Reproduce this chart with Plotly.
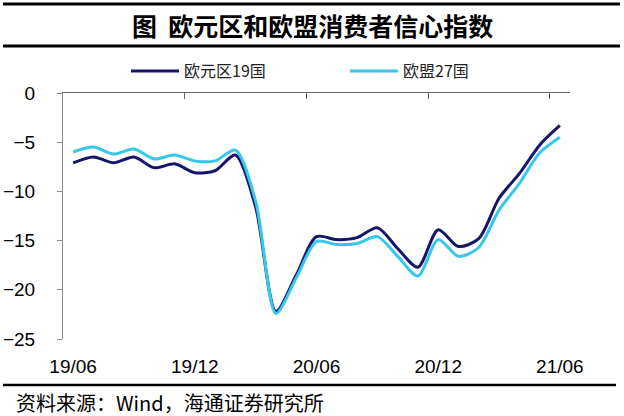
import plotly.graph_objects as go

months = ["2019-06","2019-07","2019-08","2019-09","2019-10","2019-11","2019-12",
          "2020-01","2020-02","2020-03","2020-04","2020-05","2020-06","2020-07",
          "2020-08","2020-09","2020-10","2020-11","2020-12","2021-01","2021-02",
          "2021-03","2021-04","2021-05","2021-06"]
ea19 = [-7.1, -6.5, -7.1, -6.5, -7.6, -7.2, -8.1, -7.9, -6.3, -11.6, -22.2, -18.5,
        -14.6, -14.9, -14.7, -13.7, -15.8, -17.7, -13.9, -15.6, -14.8, -10.7, -8.2,
        -5.3, -3.3]
eu27 = [-6.0, -5.5, -6.2, -5.7, -6.7, -6.3, -6.9, -6.9, -5.8, -11.0, -22.4, -18.8,
        -15.1, -15.4, -15.3, -14.6, -16.6, -18.6, -14.9, -16.6, -15.7, -11.9, -9.2,
        -6.1, -4.5]
tick_idx = [0, 6, 12, 18, 24]
tick_labels = ["19/06", "19/12", "20/06", "20/12", "21/06"]
y_ticks = [0, -5, -10, -15, -20, -25]

x = list(range(len(months)))
FONT = "Liberation Sans, Arial, Noto Sans CJK SC"
CJK = "Noto Sans CJK SC, Liberation Sans"

L, R, T, B = 63, 570, 93, 339
W, H = 624, 416
def px(xp):
    return (xp - L) / (R - L)
def py(yp):
    return (B - yp) / (B - T)

fig = go.Figure()
fig.add_trace(go.Scatter(x=x, y=ea19, name="欧元区19国", mode="lines",
                         line=dict(color="#15156B", width=3, shape="spline", smoothing=0.8),
                         hovertext=months))
fig.add_trace(go.Scatter(x=x, y=eu27, name="欧盟27国", mode="lines",
                         line=dict(color="#35C8EC", width=3, shape="spline", smoothing=0.8),
                         hovertext=months))

fig.update_layout(
    width=W, height=H,
    margin=dict(l=L, r=W - R, t=T, b=H - B, autoexpand=False),
    paper_bgcolor="white", plot_bgcolor="white",
    font=dict(family=FONT, size=19, color="black"),
    showlegend=True,
    legend=dict(orientation="h", x=px(126), xanchor="left", y=py(71), yanchor="middle",
                font=dict(family=CJK, size=16, color="#222222"),
                entrywidth=156, bgcolor="rgba(0,0,0,0)", itemwidth=48,
                tracegroupgap=0),
    xaxis=dict(range=[-0.5, len(months) - 0.5], tickmode="array",
               tickvals=tick_idx, ticktext=tick_labels, automargin=False,
               showline=False, showgrid=False, zeroline=False,
               ticks="", ticklabelstandoff=14,
               tickfont=dict(family=FONT, size=19, color="black")),
    xaxis2=dict(range=[-0.5, len(months) - 0.5], overlaying="x", side="top",
                anchor="y", tickmode="array", automargin=False,
                tickvals=[i - 0.5 for i in tick_idx[1:]] + [-0.5],
                showticklabels=False, ticks="inside", ticklen=6,
                tickcolor="#666666", showline=True, linecolor="#666666",
                linewidth=1, showgrid=False, zeroline=False),
    yaxis=dict(range=[-25, 0], tickmode="array", tickvals=y_ticks, automargin=False,
               showline=True, linecolor="#888888", linewidth=1,
               ticks="outside", ticklen=5, tickcolor="#888888",
               showgrid=False, zeroline=False, ticklabelstandoff=18,
               tickfont=dict(family=FONT, size=19, color="black")),
)
# dummy trace to activate xaxis2
fig.add_trace(go.Scatter(x=[None], y=[None], xaxis="x2", showlegend=False,
                         hoverinfo="skip"))

# Title and rules
fig.add_annotation(text="<b>图  欧元区和欧盟消费者信心指数</b>", xref="paper", yref="paper",
                   x=px(312), y=py(25), xanchor="center", yanchor="middle",
                   showarrow=False, font=dict(family=CJK, size=25, color="black"))
fig.add_annotation(text="资料来源：Wind，海通证券研究所", xref="paper", yref="paper",
                   x=px(14), y=py(402), xanchor="left", yanchor="middle",
                   showarrow=False, font=dict(family=CJK, size=20, color="black"))
for yy, wdt, x1 in [(4, 3, 620), (46, 3, 620), (385, 2.5, 616)]:
    fig.add_shape(type="line", xref="paper", yref="paper",
                  x0=px(3), x1=px(x1), y0=py(yy), y1=py(yy),
                  line=dict(color="black", width=wdt))

fig.write_html("out.html", config={"displayModeBar": False},
               post_script="document.body.style.margin='0';document.body.style.overflow='hidden';")
